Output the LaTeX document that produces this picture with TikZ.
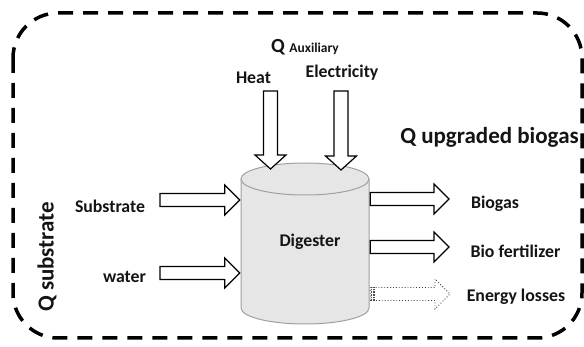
\documentclass[tikz,border=0pt]{standalone}
\usepackage{fontspec}
\setmainfont{Carlito}
\usetikzlibrary{calc}
\definecolor{cylfill}{RGB}{230,230,230}
\definecolor{cylline}{RGB}{160,160,160}
\definecolor{txt}{RGB}{20,20,20}
\tikzset{
  blockarr/.style={draw=black,fill=white,line width=1.2pt,line join=miter},
  lossarr/.style={draw=black!75,fill=white,line width=0.9pt,dotted},
  lbl/.style={inner sep=0pt,text=txt,font=\fontsize{17.8}{20}\selectfont\bfseries},
  biglbl/.style={inner sep=0pt,text=txt,font=\fontsize{23}{27}\selectfont\bfseries},
  border/.style={line width=3.5pt,dash pattern=on 15pt off 10pt,rounded corners=45pt}
}
\newcommand\harr[3][]{\draw[blockarr,#1] let \p1=(#2), \p2=(#3) in
  (\x1,\y1-6.5pt) -- (\x2-15pt,\y1-6.5pt) -- (\x2-15pt,\y1-15pt) -- (\x2,\y1)
  -- (\x2-15pt,\y1+15pt) -- (\x2-15pt,\y1+6.5pt) -- (\x1,\y1+6.5pt) -- cycle;}
\newcommand\varr[3][]{\draw[blockarr,#1] let \p1=(#2), \p2=(#3) in
  (\x1-7pt,\y1) -- (\x1-7pt,\y2+14pt) -- (\x1-15.5pt,\y2+14pt) -- (\x2,\y2)
  -- (\x1+15.5pt,\y2+14pt) -- (\x1+7pt,\y2+14pt) -- (\x1+7pt,\y1) -- cycle;}
\begin{document}
\begin{tikzpicture}[x=1pt,y=-1pt]
\useasboundingbox (0,0) rectangle (584,347);
% system boundary
\draw[border] (13,13) rectangle (582,338);
% digester cylinder
\node[minimum width=128pt,minimum height=161pt,inner sep=0pt] (dig) at (305,243.5) {};
\fill[cylfill] (241,179) -- (241,308) arc[start angle=180,end angle=360,x radius=64pt,y radius=16pt]
  -- (369,179) arc[start angle=0,end angle=180,x radius=64pt,y radius=16pt] -- cycle;
\draw[cylline,line width=1pt] (241,179) -- (241,308) arc[start angle=180,end angle=360,x radius=64pt,y radius=16pt] -- (369,179);
\draw[cylline,line width=1pt] (305,179) ellipse[x radius=64pt,y radius=16pt];
\node[lbl] (diglabel) at (310,242) {Digester};
% labels
\node[inner sep=0pt,text=txt,font=\bfseries] (qaux) at (305,47)
  {\fontsize{20}{24}\selectfont Q \fontsize{13.5}{16}\selectfont Auxiliary};
\node[lbl] (heat) at (253.5,78) {Heat};
\node[lbl] (elec) at (342,73) {Electricity};
\node[biglbl] (qup) at (489.5,137) {Q upgraded biogas};
\node[lbl] (subst) at (110,206) {Substrate};
\node[lbl] (water) at (124.5,277) {water};
\node[biglbl,rotate=90] (qsub) at (47,257) {Q substrate};
\node[lbl] (biogas) at (495,204) {Biogas};
\node[lbl] (fert) at (515.5,251) {Bio fertilizer};
\node[lbl] (loss) at (516,297) {Energy losses};
% arrow end points
\coordinate (heatS) at (270.5,91);
\coordinate (heatE) at (270.5,169);
\coordinate (elecS) at (341,91);
\coordinate (elecE) at (341,170);
\coordinate (subS) at (160,200);
\coordinate (subE) at ($(dig.west |- subS)+(-1,0)$);
\coordinate (watS) at (160,273);
\coordinate (watE) at ($(dig.west |- watS)+(-1,0)$);
\coordinate (bioS) at ($(dig.east |- 0,199)+(1,0)$);
\coordinate (bioE) at (449,199);
\coordinate (ferS) at ($(dig.east |- 0,247)+(1,0)$);
\coordinate (ferE) at (449,247);
\coordinate (losS) at ($(dig.east |- 0,294)+(1,0)$);
\coordinate (losE) at (450,294);
% arrows
\varr{heatS}{heatE}
\varr{elecS}{elecE}
\harr{subS}{subE}
\harr{watS}{watE}
\harr{bioS}{bioE}
\harr{ferS}{ferE}
\harr[lossarr]{losS}{losE}
\foreach \dx in {1.5,3,4.5}
  \draw[black!70,line width=0.6pt,densely dotted] ($(losS)+(\dx,-6.5)$) -- ($(losS)+(\dx,6.5)$);
\end{tikzpicture}
\end{document}
